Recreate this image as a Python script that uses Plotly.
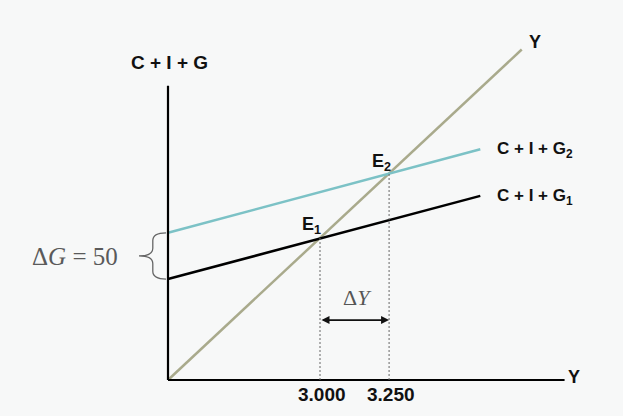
import plotly.graph_objects as go

# ---- data (schematic Keynesian cross) ----
y_origin = 2450
axis_x_end = 3885
axis_y_end = 3590
line45_x = [2450, 3730]
agg_x = [2450, 3580]
g1_y = [2841, 3163]          # C + I + G1
g2_y = [3020, 3344]          # C + I + G2
eq_y = [3000, 3250]          # equilibrium incomes E1, E2
tick_labels = ["3.000", "3.250"]
eq_labels = ["E<sub>1</sub>", "E<sub>2</sub>"]
dY_level = 2682

BG = "#f7f8f8"
OLIVE = "#a9aa8c"
TEAL = "#7cc2c6"

fig = go.Figure()

# 45 degree line
fig.add_trace(go.Scatter(x=line45_x, y=line45_x, mode="lines",
                         line=dict(color=OLIVE, width=2.5), hoverinfo="skip"))
# C+I+G lines
fig.add_trace(go.Scatter(x=agg_x, y=g2_y, mode="lines",
                         line=dict(color=TEAL, width=2.5), hoverinfo="skip"))
fig.add_trace(go.Scatter(x=agg_x, y=g1_y, mode="lines",
                         line=dict(color="black", width=2.5), hoverinfo="skip"))
# axes
fig.add_trace(go.Scatter(x=[y_origin, y_origin], y=[y_origin, axis_y_end], mode="lines",
                         line=dict(color="black", width=2.2), hoverinfo="skip"))
fig.add_trace(go.Scatter(x=[y_origin, axis_x_end], y=[y_origin, y_origin], mode="lines",
                         line=dict(color="black", width=2.2), hoverinfo="skip"))
# dotted drop lines
for v in eq_y:
    fig.add_trace(go.Scatter(x=[v, v], y=[y_origin, v], mode="lines",
                             line=dict(color="#666666", width=1, dash="2px,2px"), hoverinfo="skip"))

ann = []
def txt(x, y, t, size=16, color="#111111", family="Liberation Sans", bold=True, xanchor="center"):
    ann.append(dict(x=x, y=y, xref="x", yref="y", text=(f"<b>{t}</b>" if bold else t),
                    showarrow=False, xanchor=xanchor, yanchor="middle",
                    font=dict(size=size, color=color, family=family)))

txt(2457, 3678, "C + I + G", size=19)
txt(3778, 3759, "Y", size=18)
txt(3919, 2462, "Y", size=18)
txt(3633, 3341, "C + I + G<sub>2</sub>", size=17, xanchor="left")
txt(3633, 3159, "C + I + G<sub>1</sub>", size=17, xanchor="left")
txt(2971, 3050, eq_labels[0], size=18)
txt(3224, 3294, eq_labels[1], size=18)
for v, lab in zip(eq_y, tick_labels):
    txt(v + 7, 2392, lab, size=19)
txt(3137, 2768, "Δ<i>Y</i>", size=22, color="#555555", family="Liberation Serif", bold=False)
txt(2113, 2930, "Δ<i>G</i> = 50", size=25, color="#5a5a5a", family="Liberation Serif", bold=False)

# Delta Y double arrow
ann.append(dict(x=eq_y[1], y=dY_level, ax=eq_y[0], ay=dY_level, xref="x", yref="y",
                axref="x", ayref="y", text="", showarrow=True, arrowhead=2,
                arrowside="end+start", arrowsize=1, arrowwidth=1.6, arrowcolor="#111111",
                standoff=0, startstandoff=0))

# brace between the two intercepts
def brace_path(x_end, x_spine, x_tip, top, bottom, r):
    mid = (top + bottom) / 2
    return (f"M {x_end},{top} Q {x_spine},{top} {x_spine},{top - r} "
            f"L {x_spine},{mid + r} Q {x_spine},{mid} {x_tip},{mid} "
            f"Q {x_spine},{mid} {x_spine},{mid - r} "
            f"L {x_spine},{bottom + r} Q {x_spine},{bottom} {x_end},{bottom}")

fig.add_shape(type="path", xref="x", yref="y",
              path=brace_path(2443, 2395, 2345, g2_y[0], g1_y[0], 30),
              line=dict(color="#666666", width=1.3))

fig.update_layout(
    width=623, height=416, margin=dict(l=0, r=0, t=0, b=0),
    paper_bgcolor=BG, plot_bgcolor=BG, showlegend=False,
    xaxis=dict(range=[1842.1, 4096.4], visible=False, fixedrange=True),
    yaxis=dict(range=[2310.6, 3921.7], visible=False, fixedrange=True),
    annotations=ann,
)

fig.write_html("out.html", config={"displayModeBar": False},
               post_script="document.body.style.margin='0px';document.body.style.background='%s';" % BG)
